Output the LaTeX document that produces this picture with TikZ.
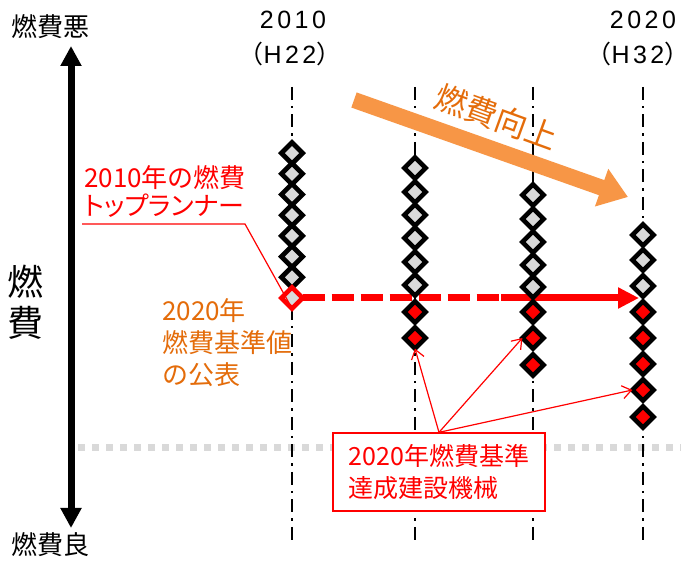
\documentclass[tikz,border=0pt]{standalone}
\usepackage{fontspec}
\setmainfont{Noto Sans CJK JP}
\newfontfamily\latf{Liberation Sans}[LetterSpace=14]
\newfontfamily\paltf{Noto Sans CJK JP}[RawFeature=+palt]
\usetikzlibrary{arrows.meta}
\definecolor{gfill}{HTML}{D9D9D9}
\definecolor{oarrow}{HTML}{F79646}
\definecolor{otext}{HTML}{E46C0A}
\definecolor{rred}{HTML}{FF0000}
\begin{document}
\begin{tikzpicture}[x=1pt,y=-1pt,
  dm/.style={rectangle, rotate=45, minimum width=15pt, minimum height=15pt, inner sep=0pt, outer sep=0pt, draw=black, line width=4.7pt, fill=gfill},
  dmr/.style={dm, fill=rred},
  dmo/.style={dm, draw=rred},
  ddline/.style={line width=2.6pt, dash pattern=on 13pt off 6pt on 2.5pt off 6pt},
  callout/.style={rred, line width=1.2pt, -{Straight Barb[length=9pt,width=13pt]}},
  lbl/.style={inner sep=0pt}
]
\useasboundingbox (0,0) rectangle (681,561);
\fill[white] (0,0) rectangle (681,561);

% gray dotted line
\coordinate (gd1) at (78,448);
\coordinate (gd2) at (681,448);
\draw[gfill, line width=7pt, dash pattern=on 7pt off 7pt] (gd1) -- (gd2);

% dash-dot year lines
\foreach \x/\n in {292/1,415/2,533/3,643/4}{
  \coordinate (t\n) at (\x,87);
  \coordinate (b\n) at (\x,545);
  \draw[ddline] (t\n) -- (b\n);
}

% axis
\coordinate (axtop) at (71,46);
\coordinate (axbot) at (71,528);
\draw[line width=7pt, {Triangle[length=20pt,width=20pt]}-{Triangle[length=20pt,width=20pt]}] (axtop) -- (axbot);
\node[lbl, font=\fontsize{26}{30}\selectfont] (bad) at (51,27) {燃費悪};
\node[lbl, font=\fontsize{26}{30}\selectfont] (good) at (51,545) {燃費良};
\node[lbl, font=\fontsize{36}{41}\selectfont, align=center] (nenpi) at (25,302) {燃\\費};

% year labels
\node[lbl, font=\fontsize{25}{30}\selectfont] (y2010) at (293,20) {\latf 2010};
\node[lbl, font=\fontsize{25}{30}\selectfont] (h22) at (290,54) {（{\latf H22}）};
\node[lbl, font=\fontsize{25}{30}\selectfont] (y2020) at (643,20) {\latf 2020};
\node[lbl, font=\fontsize{25}{30}\selectfont] (h32) at (638,54) {（{\latf H32}）};

% diamonds column 1
\foreach \k in {7,6,5,4,3,2,1}{
  \node[dm] (c1g\k) at (292,{298-20.7*\k}) {};
}
\node[dmo] (c1r) at (292,298) {};

% red standard arrow
\coordinate (mid) at (499,298);
\coordinate (mid2) at (501,298);
\coordinate (tip) at (639,298);
\draw[rred, line width=7pt, dash pattern=on 22pt off 7pt] (c1r.south east) -- (mid);
\draw[rred, line width=7pt, -{Triangle[length=21pt,width=20pt]}] (mid2) -- (tip);

% column 2
\foreach \y [count=\i] in {168,192,215,238,262,285}{
  \node[dm] (c2g\i) at (415,\y) {};
}
\foreach \y [count=\i] in {312,338}{
  \node[dmr] (c2r\i) at (415,\y) {};
}
% column 3
\foreach \y [count=\i] in {195,219,242,265,287}{
  \node[dm] (c3g\i) at (533,\y) {};
}
\foreach \y [count=\i] in {312,338,365}{
  \node[dmr] (c3r\i) at (533,\y) {};
}
% column 4
\foreach \y [count=\i] in {235,260,286}{
  \node[dm] (c4g\i) at (643,\y) {};
}
\foreach \y [count=\i] in {312,338,364,390,417}{
  \node[dmr] (c4r\i) at (643,\y) {};
}

% orange improvement arrow
\coordinate (oa1) at (354,100);
\coordinate (oa2) at (628,197);
\draw[oarrow, line width=16pt, -{Triangle[length=28pt,width=38pt]}] (oa1) -- (oa2);
\node[lbl, text=otext, rotate=-20, font=\fontsize{32}{38}\selectfont] (ot) at (497,117) {燃費向上};

% top runner callout
\node[lbl, text=rred, align=left, anchor=west, font=\fontsize{26}{28}\selectfont\paltf] (tr) at (84,191) {2010年の燃費\\トップランナー};
\coordinate (l1) at (82,224);
\coordinate (l2) at (245,224);
\coordinate (l3) at (289,303);
\draw[rred, line width=1.2pt] (l1) -- (l2) -- (l3);

% standard text
\node[lbl, text=otext, align=left, anchor=west, font=\fontsize{26}{32}\selectfont] (std) at (162,343) {2020年\\燃費基準値\\の公表};

% box
\node[draw=rred, line width=1.3pt, fill=white, text=rred, align=left, minimum width=212pt, minimum height=78pt, inner sep=0pt, font=\fontsize{25}{32}\selectfont] (box) at (439,472) {2020年燃費基準\\達成建設機械};
\draw[callout] (box.north) -- (c2r2.south west);
\draw[callout] (box.north) -- (c3r2.north west);
\draw[callout] (box.north) -- (c4r4.north west);
\end{tikzpicture}
\end{document}
